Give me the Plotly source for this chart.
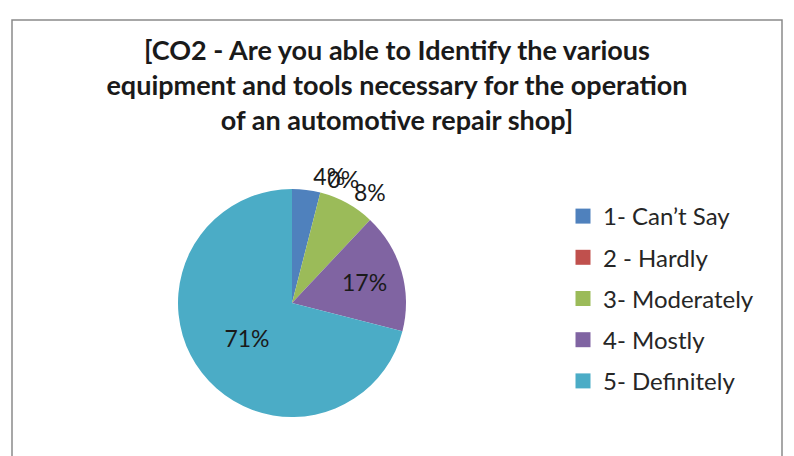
import plotly.graph_objects as go

categories = ["1- Can’t Say", "2 - Hardly", "3- Moderately", "4- Mostly", "5- Definitely"]
values = [4, 0, 8, 17, 71]
colors = ["#4F81BD", "#C0504D", "#9BBB59", "#8064A2", "#4BACC6"]
label_positions = ["outside", "outside", "outside", "inside", "inside"]
title_text = ("[CO2 - Are you able to Identify the various<br>"
              "equipment and tools necessary for the operation<br>"
              "of an automotive repair shop]")

# page body has an 8px margin; work in screen pixels and convert
OFF = 8
W, H = 794 - OFF, 456 - OFF
FONT = "Lato, Carlito, Calibri, sans-serif"


def px(x):
    return (x - OFF) / W


def py(y):
    return 1 - (y - OFF) / H


dom = dict(x=[px(178), px(406)], y=[py(417), py(189)])

fig = go.Figure()
# base pie: slices plus inside labels
fig.add_trace(go.Pie(
    labels=categories, values=values, sort=False, direction="clockwise", rotation=0,
    marker=dict(colors=colors, line=dict(width=0)),
    textinfo="percent",
    textposition=[p if p == "inside" else "none" for p in label_positions],
    textfont=dict(family=FONT, size=23, color="#1a1a1a"),
    insidetextorientation="horizontal",
    showlegend=False, domain=dom,
))
# outside labels, one overlay per label so they are not pushed apart
for k, p in enumerate(label_positions):
    if p != "outside":
        continue
    fig.add_trace(go.Pie(
        labels=categories, values=values, sort=False, direction="clockwise", rotation=0,
        marker=dict(colors=["rgba(0,0,0,0)"] * len(values), line=dict(width=0)),
        textinfo="percent",
        textposition=["outside" if i == k else "none" for i in range(len(values))],
        textfont=dict(family=FONT, size=23, color="#1a1a1a"),
        showlegend=False, hoverinfo="skip", domain=dom,
    ))

# legend entries (one per category) for spacing control
for i, (cat, col) in enumerate(zip(categories, colors)):
    fig.add_trace(go.Scatter(
        x=[None], y=[None], mode="markers", name=cat, legendgroup=f"g{i}",
        marker=dict(symbol="square", size=15, color=col),
    ))

fig.update_layout(
    width=W, height=H,
    margin=dict(l=0, r=0, t=0, b=0),
    paper_bgcolor="white", plot_bgcolor="white",
    xaxis=dict(visible=False), yaxis=dict(visible=False),
    title=dict(text=title_text, x=px(397), xanchor="center", y=py(60), yanchor="top",
               font=dict(family=FONT, size=27, color="#1a1a1a", weight="bold")),
    legend=dict(x=px(563), y=py(194), xanchor="left", yanchor="top",
                font=dict(family=FONT, size=24, color="#262626"),
                tracegroupgap=7, bgcolor="rgba(0,0,0,0)"),
    shapes=[dict(type="rect", xref="paper", yref="paper",
                 x0=px(12), x1=px(782), y0=-0.05, y1=py(20),
                 line=dict(color="#8a8a8a", width=1.5), fillcolor="rgba(0,0,0,0)")],
)

fig.write_html("out.html")
